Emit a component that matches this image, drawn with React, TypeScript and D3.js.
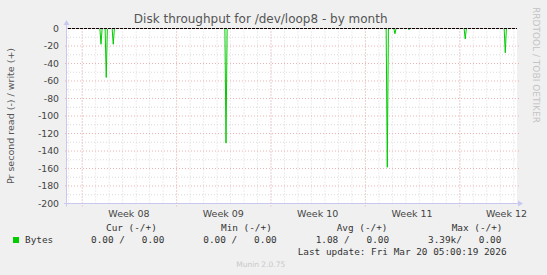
import React from 'react';
import * as d3 from 'd3';

const yTicks = [0, -20, -40, -60, -80, -100, -120, -140, -160, -180, -200];
const weekLabels = ['Week 08', 'Week 09', 'Week 10', 'Week 11', 'Week 12'];
const weekStarts = ['2026-02-16T00:00:00Z', '2026-02-23T00:00:00Z', '2026-03-02T00:00:00Z', '2026-03-09T00:00:00Z', '2026-03-16T00:00:00Z'];
const spikeTimes = [
  '2026-02-17T10:20:00Z',
  '2026-02-17T19:40:00Z',
  '2026-02-18T08:10:00Z',
  '2026-02-26T16:50:00Z',
  '2026-03-10T15:50:00Z',
  '2026-03-11T05:30:00Z',
  '2026-03-12T06:30:00Z',
  '2026-03-16T10:35:00Z',
  '2026-03-19T09:50:00Z',
];
const spikeValues = [-18, -56, -18, -131, -158.6, -6, -1.2, -12, -27.7];
const legendHeaders = ['Cur (-/+)', 'Min (-/+)', 'Avg (-/+)', 'Max (-/+)'];
const legendValues = ['0.00 /   0.00', '0.00 /   0.00', '1.08 /   0.00', '3.39k/   0.00'];
const seriesName = 'Bytes';
const titleText = 'Disk throughput for /dev/loop8 - by month';
const yAxisTitle = 'Pr second read (-) / write (+)';
const lastUpdate = 'Last update: Fri Mar 20 05:00:19 2026';
const domainStart = '2026-02-14T21:50:00Z';
const domainEnd = '2026-03-20T06:43:00Z';

const L = 67, R = 517, T = 28.5, B = 203.5;
const GREEN = '#00CC00';
const MONO = '"DejaVu Sans Mono", monospace';
const SANS = '"DejaVu Sans", sans-serif';
const MAJOR = '#EDB4B4';
const MINOR = '#DADADA';

export default function App() {
  const t0 = new Date(domainStart);
  const t1 = new Date(domainEnd);
  const x = d3.scaleUtc().domain([t0, t1]).range([L, R]);
  const y = d3.scaleLinear().domain([-200, 0]).range([B, T]);

  const step = 2 * 3600 * 1000;
  const pts: [Date, number][] = [[t0, 0]];
  spikeTimes.forEach((s, i) => {
    const t = new Date(s).getTime();
    pts.push([new Date(t - step), 0]);
    pts.push([new Date(t), spikeValues[i]]);
    pts.push([new Date(t + step), 0]);
  });
  pts.push([t1, 0]);
  const line = d3.line<[Date, number]>().x(d => x(d[0])).y(d => y(d[1]));

  const days = d3.utcDay.range(d3.utcDay.ceil(t0), t1);
  const weeks = weekStarts.map(s => new Date(s));
  const weekMs = 7 * 24 * 3600 * 1000;
  const minorY = d3.range(-190, 0, 10).filter(v => v % 20 !== 0);
  const majorY = yTicks.filter(v => v !== 0 && v !== -200);

  return (
    <svg width={547} height={275} style={{ position: 'absolute', left: 0, top: 0 }}>
      <rect x={0} y={0} width={547} height={275} fill="#F0F0F0" />
      <rect x={L} y={T} width={R - L} height={B - T} fill="#FFFFFF" />
      {/* minor grid */}
      {days.map((d, i) => (
        <line key={'vd' + i} x1={x(d) + 0.5} x2={x(d) + 0.5} y1={T} y2={B + 2} stroke={MINOR} strokeWidth={1} strokeDasharray="1,2" />
      ))}
      {minorY.map(v => (
        <line key={'hm' + v} x1={L} x2={R} y1={y(v)} y2={y(v)} stroke={MINOR} strokeWidth={1} strokeDasharray="1,2" />
      ))}
      {/* major grid */}
      {weeks.map((d, i) => (
        <line key={'vw' + i} x1={x(d) + 0.5} x2={x(d) + 0.5} y1={T} y2={B + 3} stroke={MAJOR} strokeWidth={1} strokeDasharray="1,2" />
      ))}
      {majorY.map(v => (
        <line key={'hM' + v} x1={L - 2} x2={R + 2} y1={y(v)} y2={y(v)} stroke={MAJOR} strokeWidth={1} strokeDasharray="1,2" />
      ))}
      {/* axes */}
      <line x1={L - 0.5} x2={L - 0.5} y1={B + 3} y2={22} stroke="#C8C8F0" strokeWidth={1} />
      <path d={`M${L - 3.5},${25} L${L - 0.5},${20} L${L + 2.5},${25} Z`} fill="#C8C8F0" />
      <line x1={L - 3} x2={R + 2} y1={B} y2={B} stroke="#C8C8F0" strokeWidth={1} />
      <path d={`M${R + 1},${B - 3} L${R + 6},${B} L${R + 1},${B + 3} Z`} fill="#C8C8F0" />
      {/* data */}
      <path d={line(pts) || ''} fill="none" stroke={GREEN} strokeWidth={1} />
      <line x1={L} x2={R} y1={T} y2={T} stroke="#000" strokeWidth={1} />
      <line x1={L} x2={R} y1={T} y2={T} stroke={MAJOR} strokeWidth={1} strokeDasharray="1,3" />
      {/* y ticks */}
      {yTicks.map(v => (
        <text key={'yt' + v} x={59} y={y(v) + 3.3} textAnchor="end" fontFamily={SANS} fontSize={9.3} fill="#444">{v}</text>
      ))}
      {/* x labels */}
      {weeks.map((d, i) => (
        <text key={'xl' + i} x={x(new Date(d.getTime() + weekMs / 2))} y={216.5} textAnchor="middle" fontFamily={SANS} fontSize={9.5} fill="#444">{weekLabels[i]}</text>
      ))}
      {/* titles */}
      <text x={260.7} y={23} textAnchor="middle" fontFamily={SANS} fontSize={12} fill="#555">{titleText}</text>
      <text transform="translate(13.5,116) rotate(-90)" textAnchor="middle" fontFamily={SANS} fontSize={9.5} fill="#555">{yAxisTitle}</text>
      <text transform="translate(532.5,7) rotate(90)" textAnchor="start" fontFamily={SANS} fontSize={9} fill="#C4C4C4">RRDTOOL / TOBI OETIKER</text>
      {/* legend */}
      {legendHeaders.map((h, i) => (
        <text key={'lh' + i} x={[106, 221, 336.7, 451.7][i]} y={231} fontFamily={MONO} fontSize={9.4} fill="#333" style={{ whiteSpace: 'pre' }}>{h}</text>
      ))}
      <rect x={13} y={237} width={6} height={6} fill={GREEN} />
      <text x={25} y={243} fontFamily={MONO} fontSize={9.4} fill="#333" style={{ whiteSpace: 'pre' }}>{seriesName}</text>
      {legendValues.map((v, i) => (
        <text key={'lv' + i} x={[91, 203.3, 315.7, 428][i]} y={243} fontFamily={MONO} fontSize={9.4} fill="#333" style={{ whiteSpace: 'pre' }}>{v}</text>
      ))}
      <text x={297.7} y={254.5} fontFamily={MONO} fontSize={9.4} fill="#333" style={{ whiteSpace: 'pre' }}>{lastUpdate}</text>
      <text x={260.7} y={267} textAnchor="middle" fontFamily={SANS} fontSize={7.5} fill="#C8C8C8">Munin 2.0.75</text>
    </svg>
  );
}
